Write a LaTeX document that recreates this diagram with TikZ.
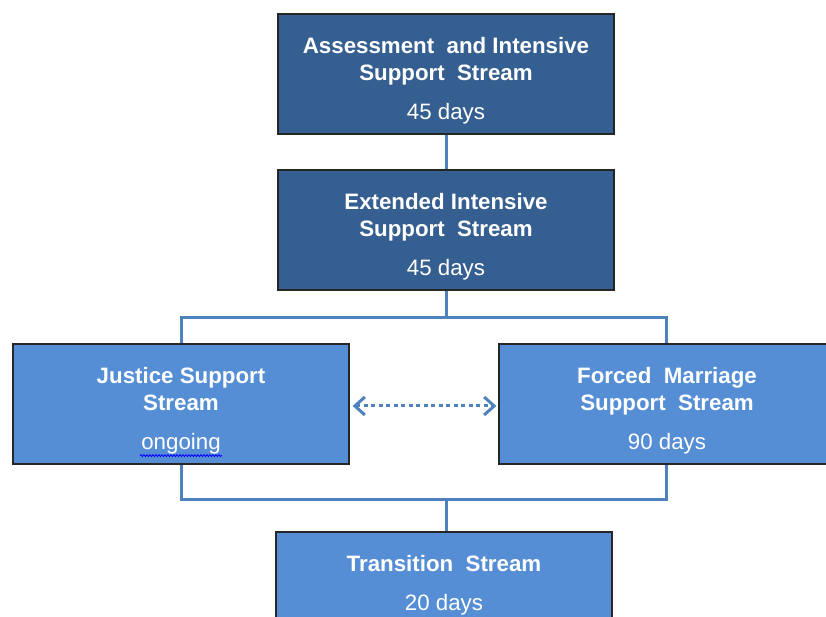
\documentclass[tikz,border=0pt]{standalone}
\usepackage{fontspec}
\usepackage{xcolor}
\usepackage{tikz}
\usetikzlibrary{arrows.meta,positioning,decorations.pathmorphing}
\newfontfamily\liber{Liberation Sans}
\definecolor{streamdark}{RGB}{54,95,145}
\definecolor{streamlight}{RGB}{85,142,213}
\definecolor{linkblue}{RGB}{79,129,189}
\newcommand\toprule{\rule{0pt}{29pt}}

\begin{document}
\begin{tikzpicture}[
  x=1pt, y=1pt,
  darkbox/.style={draw=black!85, line width=1.2pt, fill=streamdark, minimum width=336pt, minimum height=120pt, align=center, text=white, font={\liber\fontsize{22.3}{27}\selectfont}},
  lightbox/.style={darkbox, fill=streamlight},
  link/.style={linkblue, line width=3pt},
  swap/.style={linkblue, line width=3pt, dash pattern=on 4pt off 3.5pt, {Straight Barb[length=10pt, width=18pt]}-{Straight Barb[length=10pt, width=18pt]}}
]
\useasboundingbox (0,0) rectangle (826,617);

\node[darkbox] (ais) at (446,543) {\toprule\textbf{Assessment\ \ and Intensive}\\ \textbf{Support\ \ Stream}\\[12pt] 45 days};
\node[darkbox] (eis) at (446,387) {\toprule\textbf{Extended Intensive}\\ \textbf{Support\ \ Stream}\\[12pt] 45 days};
\node[lightbox] (jss) at (181,213) {\toprule\textbf{Justice Support}\\ \textbf{Stream}\\[12pt] ongoing};
\node[lightbox] (fms) at (667,213) {\toprule\textbf{Forced\ \ Marriage}\\ \textbf{Support\ \ Stream}\\[12pt] 90 days};
\node[lightbox, minimum height=94pt] (trs) at (444,38) {\toprule\textbf{Transition\ \ Stream}\\[12pt] 20 days};

\coordinate (split) at (446,299);
\coordinate (join) at (446,117);

\draw[link] (ais.south) -- (eis.south |- ais.south) -- (eis.north);
\draw[link] (eis.south) -- (split);
\draw[link] (jss.north) |- (split) -| ([xshift=-1pt]fms.north);
\draw[link] (jss.south) |- (join) -| ([xshift=-1pt]fms.south);
\draw[link] (join) -- (join |- trs.north);
\draw[swap] ([xshift=3pt,yshift=-2pt]jss.east) -- ([xshift=-2pt,yshift=-2pt]fms.west);

\draw[blue, line width=0.8pt, decorate, decoration={snake, amplitude=1pt, segment length=3pt}] ([xshift=-41pt,yshift=9pt]jss.south) -- ([xshift=41pt,yshift=9pt]jss.south);
\end{tikzpicture}
\end{document}
